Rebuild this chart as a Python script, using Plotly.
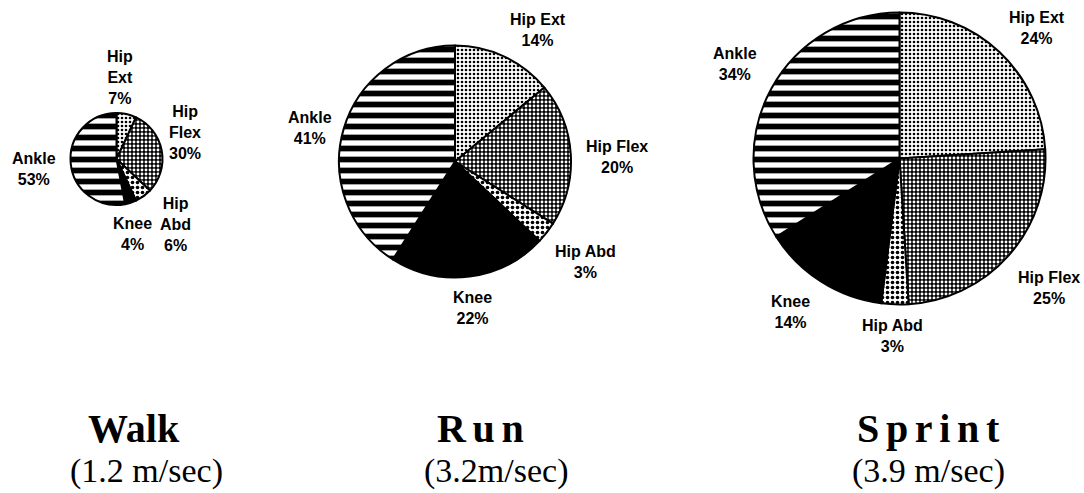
import plotly.graph_objects as go

# ---------------- data ----------------
categories = ["Hip Ext", "Hip Flex", "Hip Abd", "Knee", "Ankle"]
walk_pct = [7, 30, 6, 4, 53]
run_pct = [14, 20, 3, 22, 41]
sprint_pct = [24, 25, 3, 14, 34]

titles = ["Walk", "Run", "Sprint"]
speeds = ["(1.2 m/sec)", "(3.2m/sec)", "(3.9 m/sec)"]

# ---------------- layout geometry (page pixels) ----------------
W, H = 1084, 493
pies = [
    dict(vals=walk_pct, cx=116.5, cy=159, r=46, split=True,
         lab=[(120, 77), (185, 132), (175, 224), (132, 234), (34, 169)]),
    dict(vals=run_pct, cx=455, cy=161.5, r=116, split=False,
         lab=[(538, 30), (617, 157), (585, 262), (472, 308), (310, 128)]),
    dict(vals=sprint_pct, cx=899.5, cy=158.5, r=146, split=False,
         lab=[(1037, 28), (1049, 288), (892, 336), (790, 312), (735, 64)]),
]
title_pos = [(134, 428), (480, 428), (928, 428)]
speed_pos = [(146, 471), (496, 471), (928, 471)]

pattern = dict(
    shape=[".", ".", ".", "", "-"],
    fgcolor=["black", "white", "black", "black", "black"],
    bgcolor=["white", "black", "white", "black", "white"],
    size=[4, 4, 5, 8, 11],
    solidity=[0.34, 0.42, 0.42, 1.0, 0.52],
    fillmode="replace",
)


def P(x, y):
    return x / W, 1 - y / H


fig = go.Figure()
for p in pies:
    cx, cy, r = p["cx"], p["cy"], p["r"]
    x0, y1 = P(cx - r, cy - r)
    x1, y0 = P(cx + r, cy + r)
    fig.add_trace(go.Pie(
        labels=categories,
        values=p["vals"],
        sort=False,
        direction="clockwise",
        rotation=0,
        textinfo="none",
        hoverinfo="label+percent",
        showlegend=False,
        domain=dict(x=[x0, x1], y=[y0, y1]),
        marker=dict(colors=["white", "black", "white", "black", "white"],
                    line=dict(color="black", width=2),
                    pattern=pattern),
    ))


annotations = []
for p in pies:
    for cat, v, (lx, ly) in zip(categories, p["vals"], p["lab"]):
        name = cat.replace(" ", "<br>") if p["split"] else cat
        x, y = P(lx, ly)
        annotations.append(dict(
            x=x, y=y, xref="paper", yref="paper", showarrow=False,
            xanchor="center", yanchor="middle", align="center",
            text=f"<b>{name}<br>{v}%</b>",
            font=dict(family="Liberation Sans, Arial, sans-serif", size=16, color="black"),
        ))

for t, (tx, ty) in zip(titles, title_pos):
    text = t if t == "Walk" else "\u2006".join(t)
    x, y = P(tx, ty)
    annotations.append(dict(
        x=x, y=y, xref="paper", yref="paper", showarrow=False,
        xanchor="center", yanchor="middle",
        text=f"<b>{text}</b>",
        font=dict(family="Liberation Serif, Times New Roman, serif", size=40, color="black"),
    ))
for s, (sx, sy) in zip(speeds, speed_pos):
    x, y = P(sx, sy)
    annotations.append(dict(
        x=x, y=y, xref="paper", yref="paper", showarrow=False,
        xanchor="center", yanchor="middle",
        text=s,
        font=dict(family="Liberation Serif, Times New Roman, serif", size=34, color="black"),
    ))

fig.update_layout(
    width=W, height=H,
    margin=dict(l=0, r=0, t=0, b=0),
    paper_bgcolor="white",
    plot_bgcolor="white",
    annotations=annotations,
)

fig.write_html(
    "out.html",
    config={"displayModeBar": False},
    post_script="document.body.style.margin='0px';document.body.style.overflow='hidden';",
)
